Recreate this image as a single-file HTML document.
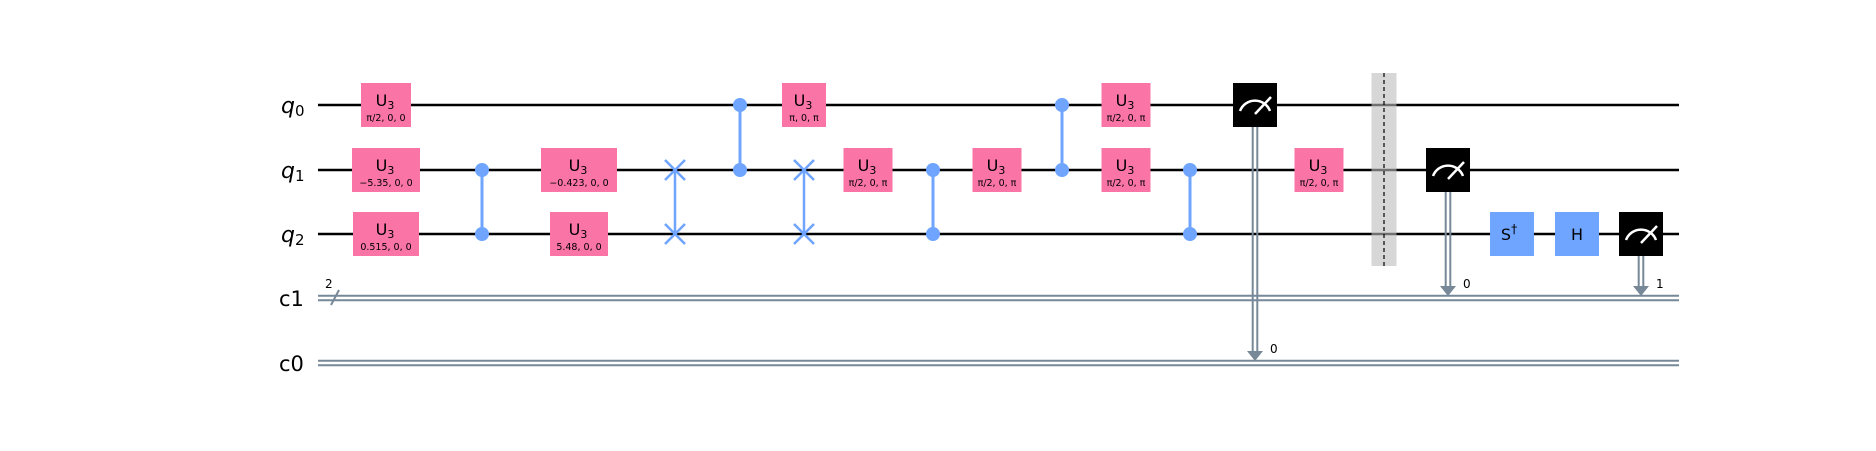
<!DOCTYPE html>
<html><head><meta charset="utf-8">
<style>
html,body{margin:0;padding:0;background:#fff;}
svg{display:block;font-family:"DejaVu Sans","Liberation Sans",sans-serif;}
</style></head>
<body>
<svg id="c" width="1876" height="451" viewBox="0 0 1876 451" xmlns="http://www.w3.org/2000/svg"></svg>
<script>
// ----- circuit data -----
const qubitNames = ["q","q","q"];
const qubitY = [105, 170, 234];
const clbitNames = ["c1","c0"];
const clbitY = [298, 363];
const wireStart = 318, wireEnd = 1679;
// U3 gates: [x-center, qubit, width, param label]
const u3Gates = [
 [386,0,50,"π/2, 0, 0"],[386,1,68,"−5.35, 0, 0"],[386,2,66,"0.515, 0, 0"],
 [579,1,76,"−0.423, 0, 0"],[579,2,58,"5.48, 0, 0"],
 [804,0,44,"π, 0, π"],[868,1,49,"π/2, 0, π"],[997,1,49,"π/2, 0, π"],
 [1126,0,49,"π/2, 0, π"],[1126,1,49,"π/2, 0, π"],[1319,1,49,"π/2, 0, π"]
];
// CZ gates: [x, qubitA, qubitB]
const czGates = [[482,1,2],[740,0,1],[933,1,2],[1062,0,1],[1190,1,2]];
const swapGates = [[675,1,2],[804,1,2]];
// measurements: [x, qubit, clbit-register index, bit label]
const measures = [[1255,0,1,"0"],[1448,1,0,"0"],[1641,2,0,"1"]];
const blueGates = [[1512,2,"S"],[1577,2,"H"]];
const barrierX = 1384;

const NS="http://www.w3.org/2000/svg";
const svg=document.getElementById('c');
function mk(tag,attrs,parent){const e=document.createElementNS(NS,tag);for(const k in attrs)e.setAttribute(k,attrs[k]);(parent||svg).appendChild(e);return e;}

// wires
qubitY.forEach((y,i)=>{
 const l=mk('line',{x1:wireStart,x2:wireEnd,y1:y,y2:y,stroke:'#000','stroke-width':2.5});
 
 
 const t=mk('text',{x:281,y:y+8,'font-size':22,'font-style':'italic',fill:'#000'});
 
 
 t.textContent=qubitNames[i];
 const s=mk('tspan',{'font-size':15,'font-style':'normal',dy:3},t);s.textContent=String(i);
});
clbitY.forEach((y,i)=>{
 [-2.3,2.3].forEach(d=>{
  const l=mk('line',{x1:wireStart,x2:wireEnd,y1:y+d,y2:y+d,stroke:'#778899','stroke-width':2});
  
  
 });
 const t=mk('text',{x:279,y:y+8,'font-size':21,fill:'#000'});
 
 
 t.textContent=clbitNames[i];
});
// c1 width slash
const sl=mk('line',{x1:331,y1:305,x2:339,y2:290,stroke:'#778899','stroke-width':2});


const st=mk('text',{x:325,y:288,'font-size':12,fill:'#000'});


st.textContent='2';

// barrier
const br=mk('rect',{x:barrierX-12.5,y:73,width:25,height:193,fill:'#bdbdbd','fill-opacity':0.6});


const bl=mk('line',{x1:barrierX,x2:barrierX,y1:73,y2:266,stroke:'#000','stroke-width':1.2,'stroke-dasharray':'4,3'});



// cz
czGates.forEach((g,i)=>{
 const [x,a,b]=g;
 const l=mk('line',{x1:x,x2:x,y1:qubitY[a],y2:qubitY[b],stroke:'#6fa4ff','stroke-width':3});
 
 
 [a,b].forEach(q=>{const c=mk('circle',{cx:x,cy:qubitY[q],r:7,fill:'#6fa4ff'});
  
  });
});
// swap
swapGates.forEach((g,i)=>{
 const [x,a,b]=g;
 const l=mk('line',{x1:x,x2:x,y1:qubitY[a],y2:qubitY[b],stroke:'#6fa4ff','stroke-width':2.5});
 
 
 [a,b].forEach(q=>{const y=qubitY[q];
  const p=mk('path',{d:`M${x-10},${y-10}L${x+10},${y+10}M${x-10},${y+10}L${x+10},${y-10}`,stroke:'#6fa4ff','stroke-width':2.5,fill:'none'});
  
  });
});
// U3
u3Gates.forEach((g,i)=>{
 const [x,q,w,p]=g; const y=qubitY[q];
 const r=mk('rect',{x:x-w/2,y:y-22,width:w,height:44,fill:'#fa74a6'});
 
 
 const t=mk('text',{x:x-1,y:y+1,'font-size':16,'text-anchor':'middle',fill:'#000'});
 
 
 t.textContent='U';const s=mk('tspan',{'font-size':11,dy:3},t);s.textContent='3';
 const pt=mk('text',{x:x,y:y+16,'font-size':9.5,'text-anchor':'middle',fill:'#000'});
 
 
 pt.textContent=p;
});
// blue gates
blueGates.forEach(g=>{
 const [x,q,n]=g; const y=qubitY[q];
 const r=mk('rect',{x:x-22,y:y-22,width:44,height:44,fill:'#6fa4ff'});
 
 
 const t=mk('text',{x:x-(n==='S'?3:0),y:y+6,'font-size':16,'text-anchor':'middle',fill:'#000'});
 
 
 t.textContent=n;
 if(n==='S'){const s=mk('tspan',{'font-size':12,dy:-7},t);s.textContent='†';}
});
// measurements
measures.forEach((m,i)=>{
 const [x,q,c,lab]=m; const y=qubitY[q]; const cy=clbitY[c];
 [-2.3,2.3].forEach(d=>{const l=mk('line',{x1:x+d,x2:x+d,y1:y+22,y2:cy-10,stroke:'#778899','stroke-width':2});
  
  });
 const a=mk('polygon',{points:`${x-8},${cy-12} ${x+8},${cy-12} ${x},${cy-2}`,fill:'#778899'});
 
 
 const r=mk('rect',{x:x-22,y:y-22,width:44,height:44,fill:'#000'});
 
 
 const arc=mk('path',{d:`M${x-15},${y+6}A16,16 0 0 1 ${x+15},${y+6}`,stroke:'#fff','stroke-width':2.5,fill:'none'});
 
 
 const nd=mk('line',{x1:x,y1:y+9,x2:x+16,y2:y-8,stroke:'#fff','stroke-width':2.5});
 
 
 const t=mk('text',{x:x+15,y:cy-10,'font-size':12,fill:'#000'});
 
 
 t.textContent=lab;
});
</script>
</body></html>
